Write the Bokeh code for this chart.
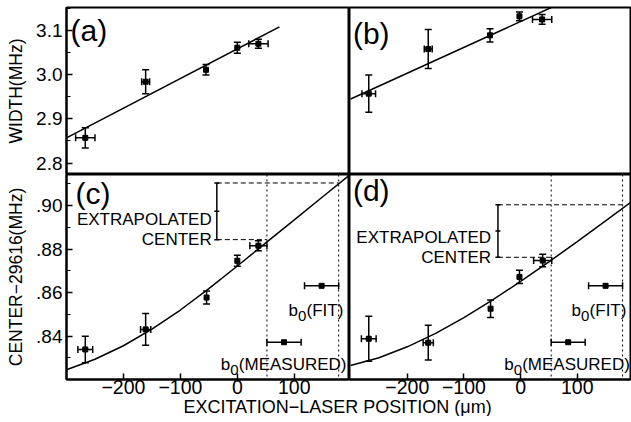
from bokeh.plotting import figure
from bokeh.layouts import column, row
from bokeh.models import (Range1d, FixedTicker, CustomJSTickFormatter, Whisker,
                          TeeHead, ColumnDataSource, Label, Span)
from bokeh.embed import file_html
from bokeh.resources import INLINE

FONT = "Liberation Sans"

# ---------------- data ----------------
# panel (a): width vs excitation-laser position
pos_a = [-267, -161, -55, 0, 37]
width_a = [2.857, 2.984, 3.011, 3.061, 3.070]
width_a_err = [0.023, 0.027, 0.012, 0.0125, 0.010]
pos_a_err = [17, 7, 0, 0, 17]
fit_a_x = [-300, 74]
fit_a_y = [2.857, 3.108]

# panel (b)
pos_b = [-268, -163, -54, -2, 38]
width_b = [2.957, 3.058, 3.089, 3.132, 3.125]
width_b_err = [0.042, 0.044, 0.015, 0.010, 0.011]
pos_b_err = [12, 7, 0, 0, 17]
fit_b_x = [-300, 56]
fit_b_y = [2.945, 3.153]

# panel (c): center - 29616 MHz
pos_c = [-267, -161, -54, 0, 37]
center_c = [0.8339, 0.8431, 0.8577, 0.8746, 0.8815]
center_c_err = [0.0061, 0.0073, 0.0030, 0.0025, 0.0023]
pos_c_err = [13, 9, 0, 0, 15]
fit_c_x = [-300, -250, -200, -150, -100, -50, 0, 50, 100, 150, 200]
fit_c_y = [0.8246, 0.8294, 0.8356, 0.8432, 0.8520, 0.8618, 0.8722, 0.8828, 0.8934, 0.9040, 0.9146]
b0_fit_c = (148, 30, 0.8631)
b0_meas_c = (82, 30, 0.8372)
extrap_c = (-36, 0.8843, 0.9103)

# panel (d)
pos_d = [-268, -163, -53, -2, 39]
center_d = [0.8388, 0.8370, 0.8526, 0.8672, 0.8747]
center_d_err = [0.0103, 0.0080, 0.0040, 0.0030, 0.0029]
pos_d_err = [13, 9, 0, 0, 16]
fit_d_x = [-300, -250, -200, -150, -100, -50, 0, 50, 100, 150, 200]
fit_d_y = [0.8265, 0.8301, 0.8351, 0.8413, 0.8485, 0.8565, 0.8651, 0.8741, 0.8834, 0.8929, 0.9025]
b0_fit_d = (150, 30, 0.8631)
b0_meas_d = (84, 30, 0.8372)
extrap_d = (-40, 0.8762, 0.9003)

x_ticks = [-200, -100, 0, 100]
w_ticks = [2.8, 2.9, 3.0, 3.1]
w_minor = [2.75, 2.85, 2.95, 3.05, 3.15]
c_ticks = [0.84, 0.86, 0.88, 0.90]
c_minor = [0.83, 0.85, 0.87, 0.89, 0.91]

X_RANGE_L = (-300, 197)
X_RANGE_R = (-302, 194)
W_RANGE = (2.774, 3.152)
C_RANGE = (0.8201, 0.9142)

LEFT_BORDER = 66
TOP_BORDER = 7
FW_L, FW_R = 283, 281
FH_T, FH_B = 167, 205


def make_fig(fw, fh, xr, yr, xaxis, yaxis, left=0, right=0, top=0):
    p = figure(frame_width=fw, frame_height=fh,
               x_range=Range1d(*xr), y_range=Range1d(*yr),
               output_backend="svg", toolbar_location=None,
               x_axis_location="below" if xaxis else None,
               y_axis_location="left" if yaxis else None,
               min_border_left=left, min_border_right=right,
               min_border_top=top, min_border_bottom=0)
    p.grid.visible = False
    p.outline_line_color = "black"
    p.outline_line_width = 2
    p.background_fill_color = "white"
    p.border_fill_color = "white"
    return p


def style_axis(ax, ticks, minor, code, size="19px"):
    ax.ticker = FixedTicker(ticks=ticks, minor_ticks=minor)
    ax.formatter = CustomJSTickFormatter(code=code)
    ax.major_tick_in = 6
    ax.major_tick_out = 0
    ax.minor_tick_in = 4
    ax.minor_tick_out = 0
    ax.major_tick_line_width = 1.5
    ax.minor_tick_line_width = 1.2
    ax.axis_line_width = 2
    ax.major_label_text_font = FONT
    ax.major_label_text_font_size = size
    ax.major_label_text_color = "black"
    ax.axis_label_text_font = FONT
    ax.axis_label_text_font_size = "17.5px"
    ax.axis_label_text_font_style = "normal"
    ax.axis_label_text_color = "black"


XCODE = "return (tick < 0 ? '\u2212' : '') + Math.abs(tick).toFixed(0);"


def add_points(p, x, y, yerr, xerr):
    src = ColumnDataSource(dict(x=x, y=y,
                                yl=[a - e for a, e in zip(y, yerr)],
                                yu=[a + e for a, e in zip(y, yerr)]))
    p.add_layout(Whisker(source=src, base="x", lower="yl", upper="yu",
                         dimension="height", line_width=1.5, line_color="black",
                         upper_head=TeeHead(size=7, line_width=1.5),
                         lower_head=TeeHead(size=7, line_width=1.5)))
    idx = [i for i, e in enumerate(xerr) if e > 0]
    hsrc = ColumnDataSource(dict(y=[y[i] for i in idx],
                                 xl=[x[i] - xerr[i] for i in idx],
                                 xu=[x[i] + xerr[i] for i in idx]))
    p.add_layout(Whisker(source=hsrc, base="y", lower="xl", upper="xu",
                         dimension="width", line_width=1.5, line_color="black",
                         upper_head=TeeHead(size=7, line_width=1.5),
                         lower_head=TeeHead(size=7, line_width=1.5)))
    p.scatter(x, y, marker="square", size=5, color="black")


def add_b0(p, b0, xt, yt, rest):
    c, e, yv = b0
    src = ColumnDataSource(dict(y=[yv], xl=[c - e], xu=[c + e]))
    p.add_layout(Whisker(source=src, base="y", lower="xl", upper="xu",
                         dimension="width", line_width=1.5, line_color="black",
                         upper_head=TeeHead(size=7, line_width=1.5),
                         lower_head=TeeHead(size=7, line_width=1.5)))
    p.scatter([c], [yv], marker="square", size=5, color="black")
    common = dict(text_font=FONT, text_color="black", text_baseline="alphabetic")
    p.add_layout(Label(x=xt, y=yt, text="b", text_font_size="17px", **common))
    p.add_layout(Label(x=xt, y=yt, x_offset=9.5, y_offset=-5, text="0",
                       text_font_size="15px", **common))
    p.add_layout(Label(x=xt, y=yt, x_offset=18, text=rest,
                       text_font_size="17px", **common))


def add_extrap(p, ex, x_meas, x_fit, xt, yt1, yt2):
    xb, ylo, yhi = ex
    p.segment([xb, xb], [yhi, ylo], [x_fit, x_meas], [yhi, ylo],
              line_color="black", line_width=1, line_dash="5 3")
    src = ColumnDataSource(dict(x=[xb], yl=[ylo], yu=[yhi]))
    p.add_layout(Whisker(source=src, base="x", lower="yl", upper="yu",
                         dimension="height", line_width=1.5, line_color="black",
                         upper_head=TeeHead(size=5, line_width=1.5),
                         lower_head=TeeHead(size=5, line_width=1.5)))
    p.scatter([xb], [(ylo + yhi) / 2], marker="dash", size=5, color="black",
              line_width=1.5)
    for v in (x_meas, x_fit):
        p.add_layout(Span(location=v, dimension="height", line_color="black",
                          line_width=1, line_dash="2 3"))
    common = dict(text_font=FONT, text_color="black", text_font_size="17px",
                  text_align="right", text_baseline="middle")
    p.add_layout(Label(x=xt, y=yt1, text="EXTRAPOLATED", **common))
    p.add_layout(Label(x=xt, y=yt2, text="CENTER", **common))


def panel_label(p, x, y, t):
    p.add_layout(Label(x=x, y=y, text=t, text_font=FONT, text_font_size="30px",
                       text_color="black", text_baseline="middle"))


# ---------------- panel (a) ----------------
pa = make_fig(FW_L, FH_T, X_RANGE_L, W_RANGE, False, True,
              left=LEFT_BORDER, top=TOP_BORDER)
style_axis(pa.yaxis[0], w_ticks, w_minor, "return tick.toFixed(1);")
pa.yaxis[0].axis_label = "WIDTH(MHz)"
pa.yaxis[0].major_label_standoff = 4
pa.yaxis[0].axis_label_standoff = 7
pa.line(fit_a_x, fit_a_y, line_color="black", line_width=1.5)
add_points(pa, pos_a, width_a, width_a_err, pos_a_err)
panel_label(pa, -293, 3.100, "(a)")

# ---------------- panel (b) ----------------
pb = make_fig(FW_R, FH_T, X_RANGE_R, W_RANGE, False, False, right=1, top=TOP_BORDER)
pb.line(fit_b_x, fit_b_y, line_color="black", line_width=1.5)
add_points(pb, pos_b, width_b, width_b_err, pos_b_err)
panel_label(pb, -296, 3.093, "(b)")

# ---------------- panel (c) ----------------
pc = make_fig(FW_L, FH_B, X_RANGE_L, C_RANGE, True, True, left=LEFT_BORDER)
style_axis(pc.yaxis[0], c_ticks, c_minor,
           "return tick.toFixed(2).replace(/^0/, '');")
pc.yaxis[0].axis_label = "CENTER\u221229616(MHz)"
pc.yaxis[0].major_label_standoff = 4
pc.yaxis[0].axis_label_standoff = 7
style_axis(pc.xaxis[0], x_ticks, [], XCODE, size="19.5px")
pc.xaxis[0].major_label_standoff = 0
pc.line(fit_c_x, fit_c_y, line_color="black", line_width=1.5)
add_extrap(pc, extrap_c, 52, 178, -45, 0.8934, 0.8843)
add_points(pc, pos_c, center_c, center_c_err, pos_c_err)
add_b0(pc, b0_fit_c, 90, 0.8516, "(FIT)")
add_b0(pc, b0_meas_c, -29, 0.8268, "(MEASURED)")
panel_label(pc, -284, 0.9057, "(c)")

# ---------------- panel (d) ----------------
pd_ = make_fig(FW_R, FH_B, X_RANGE_R, C_RANGE, True, False, right=1)
style_axis(pd_.xaxis[0], x_ticks, [], XCODE, size="19.5px")
pd_.xaxis[0].major_label_standoff = 0
pd_.line(fit_d_x, fit_d_y, line_color="black", line_width=1.5)
add_extrap(pd_, extrap_d, 54, 180, -52, 0.8855, 0.8761)
add_points(pd_, pos_d, center_d, center_d_err, pos_d_err)
add_b0(pd_, b0_fit_d, 90, 0.8516, "(FIT)")
add_b0(pd_, b0_meas_d, -29, 0.8268, "(MEASURED)")
panel_label(pd_, -296, 0.9067, "(d)")

# ---------------- shared x-axis title ----------------
TW, TH = LEFT_BORDER + FW_L + FW_R + 1, 20
pt = figure(width=TW, height=TH, x_range=Range1d(0, TW), y_range=Range1d(0, TH),
            output_backend="svg", toolbar_location=None,
            x_axis_location=None, y_axis_location=None, min_border=0)
pt.grid.visible = False
pt.outline_line_color = None
pt.add_layout(Label(x=337, y=TH / 2, text="EXCITATION\u2212LASER POSITION (\u03bcm)",
                    text_font=FONT, text_font_size="18px", text_color="black",
                    text_align="center", text_baseline="middle"))

layout = column(row(pa, pb), row(pc, pd_), pt)
open("out.html", "w").write(file_html(layout, INLINE))
